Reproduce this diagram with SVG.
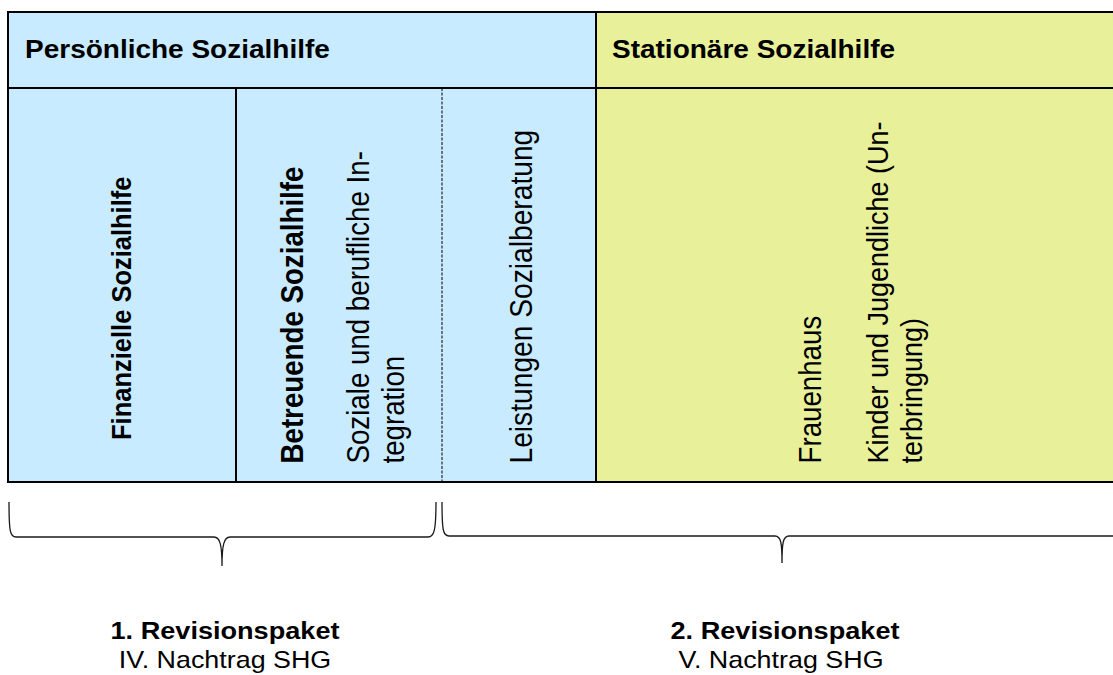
<svg xmlns="http://www.w3.org/2000/svg" width="1113" height="675" viewBox="0 0 1113 675">
<style>
text{font-family:"Liberation Sans",Arial,sans-serif;fill:#000}
.b{font-weight:bold}
.hd{font-size:25px;font-weight:bold}
.vt{font-size:27.7px}
.bt{font-size:24.2px;font-weight:bold}
.bn{font-size:24px}
.frame{stroke:#000;stroke-width:2;fill:none}
.brace{stroke:#1a1a1a;stroke-width:1.3;fill:none}
</style>
<g id="persoenliche">
<rect x="8" y="12" width="588" height="470" fill="#C9EBFF"/>
<text class="hd" transform="translate(25,58) scale(1.12,1)">Persönliche Sozialhilfe</text>
</g>
<g id="stationaere">
<rect x="596" y="12" width="530" height="470" fill="#E8F19A"/>
<text class="hd" transform="translate(612,58) scale(1.12,1)">Stationäre Sozialhilfe</text>
</g>
<g id="grid">
<path class="frame" d="M1120,12 H8 V482 H1120 M8,88 H1120 M236,88 V482 M596,12 V482"/>
<path d="M442,88 V482" stroke="#000" stroke-width="1" stroke-dasharray="3,1.5" fill="none"/>
</g>
<g id="finanzielle">
<text class="vt b" style="font-size:25.5px" transform="translate(131,440) scale(1.12,1) rotate(-90)">Finanzielle Sozialhilfe</text>
</g>
<g id="betreuende">
<text class="vt b" transform="translate(303,463.5) scale(1.12,1) rotate(-90)">Betreuende Sozialhilfe</text>
<text class="vt" transform="translate(368.5,463.5) scale(1.12,1) rotate(-90)">Soziale und berufliche In-</text>
<text class="vt" transform="translate(404,463.5) scale(1.12,1) rotate(-90)">tegration</text>
</g>
<g id="leistungen">
<text class="vt" style="font-size:28.2px" transform="translate(532,463.5) scale(1.12,1) rotate(-90)">Leistungen Sozialberatung</text>
</g>
<g id="frauenhaus">
<text class="vt" transform="translate(821,463.5) scale(1.12,1) rotate(-90)">Frauenhaus</text>
</g>
<g id="kinder">
<text class="vt" style="font-size:27px" transform="translate(887.5,463.5) scale(1.12,1) rotate(-90)">Kinder und Jugendliche (Un-</text>
<text class="vt" style="font-size:27px" transform="translate(922,463.5) scale(1.12,1) rotate(-90)">terbringung)</text>
</g>
<g id="connectors">
<path class="brace" d="M9,502 C9,531 10,537 16,537 L214,537 C220,537 222,545 222,566 C222,545 224,537 230,537 L428,537 C434,537 436,531 436,502"/>
<path class="brace" d="M442,502 C442,530 443,536 449,536 L775,536 C781,536 782,543 782,563 C782,543 783,536 789,536 L1120,536"/>
</g>
<g id="paket1">
<text class="bt" text-anchor="middle" transform="translate(225,639) scale(1.12,1)">1. Revisionspaket</text>
<text class="bn" text-anchor="middle" transform="translate(225,668) scale(1.12,1)">IV. Nachtrag SHG</text>
</g>
<g id="paket2">
<text class="bt" text-anchor="middle" transform="translate(785,639) scale(1.12,1)">2. Revisionspaket</text>
<text class="bn" text-anchor="middle" transform="translate(781,668) scale(1.12,1)">V. Nachtrag SHG</text>
</g>
</svg>
